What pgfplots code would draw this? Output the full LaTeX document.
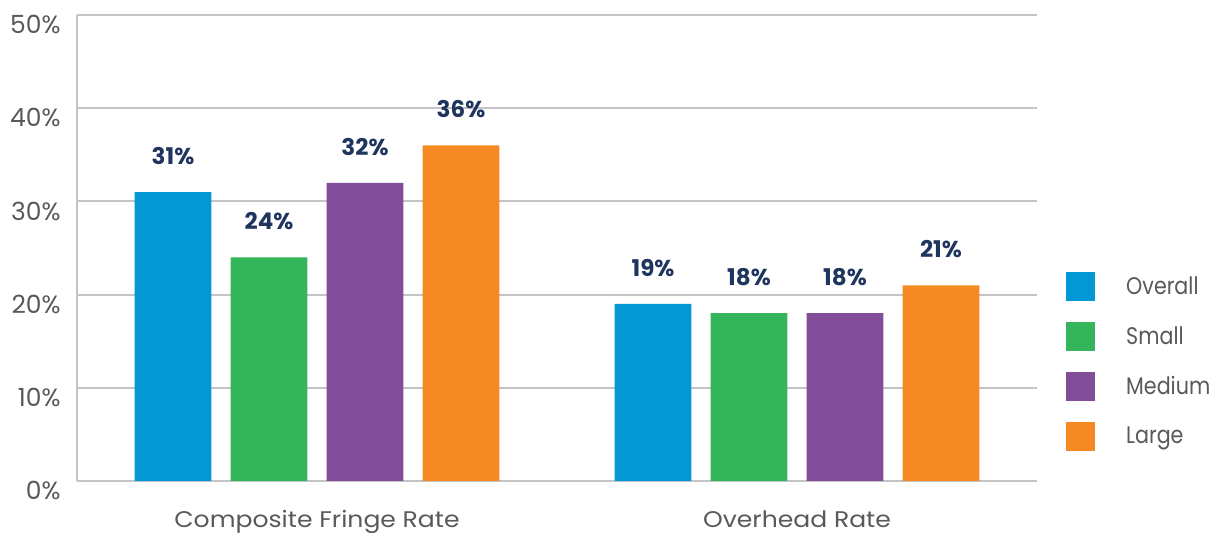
\documentclass[border=0pt]{standalone}
\usepackage{fontspec}
\setmainfont{Poppins}
\newfontfamily\catfont{Poppins}[FakeStretch=1.11]
\newfontfamily\legfont{Poppins}[FakeStretch=0.86]
\usepackage{pgfplots}
\pgfplotsset{compat=1.18}
\definecolor{cBlue}{HTML}{0397D6}
\definecolor{cGreen}{HTML}{35B55B}
\definecolor{cPurple}{HTML}{814C98}
\definecolor{cOrange}{HTML}{F58A22}
\definecolor{gridc}{HTML}{C4C4C4}
\definecolor{tickc}{HTML}{595959}
\definecolor{navy}{HTML}{1F355E}
\begin{document}
\begin{tikzpicture}
\useasboundingbox (-38.5pt,-26pt) rectangle (566pt,240.5pt);
\begin{axis}[
  scale only axis, width=480pt, height=233pt,
  xmin=-0.5, xmax=1.5, ymin=0, ymax=50,
  axis x line*=bottom, axis y line*=left,
  axis line style={-, draw=gridc, line width=1pt},
  ytick={0,10,20,30,40,50},
  ymajorgrids, grid style={draw=gridc, line width=1pt},
  xtick={0,1}, xticklabels={Composite Fringe Rate, Overhead Rate},
  major tick length=0pt,
  /pgf/number format/assume math mode=true,
  yticklabel={\pgfmathprintnumber{\tick}\%},
  yticklabel style={anchor=north east, inner sep=0pt, xshift=-8pt, font=\fontsize{12.5}{14}\selectfont, text=tickc},
  xticklabel style={anchor=north, inner sep=0pt, yshift=-14.5pt, font=\catfont\fontsize{11.3}{13}\selectfont, text=tickc},
  bar width=0.16,
  nodes near coords={\pgfmathprintnumber{\pgfplotspointmeta}\%},
  every node near coord/.append style={anchor=center, yshift=18pt, font=\bfseries\fontsize{11.5}{13}\selectfont, text=navy},
  legend style={at={(1.0302,0.4485)}, anchor=north west, draw=none, fill=none, inner sep=0pt,
    row sep=10.5pt, nodes={inner sep=0pt, text=tickc, font=\legfont\fontsize{12}{14}\selectfont},
    /tikz/every odd column/.append style={column sep=15.4pt}},
  legend cell align=left,
  legend image code/.code={\fill[#1] (0pt,-7.25pt) rectangle (14.5pt,7.25pt);},
]
\addplot[ybar, bar shift=0pt, fill=cBlue, draw=none] coordinates {(-0.3,31) (0.7,19)};
\addplot[ybar, bar shift=0pt, fill=cGreen, draw=none] coordinates {(-0.1,24) (0.9,18)};
\addplot[ybar, bar shift=0pt, fill=cPurple, draw=none] coordinates {(0.1,32) (1.1,18)};
\addplot[ybar, bar shift=0pt, fill=cOrange, draw=none] coordinates {(0.3,36) (1.3,21)};
\legend{Overall, Small, Medium, Large}
\end{axis}
\end{tikzpicture}
\end{document}
